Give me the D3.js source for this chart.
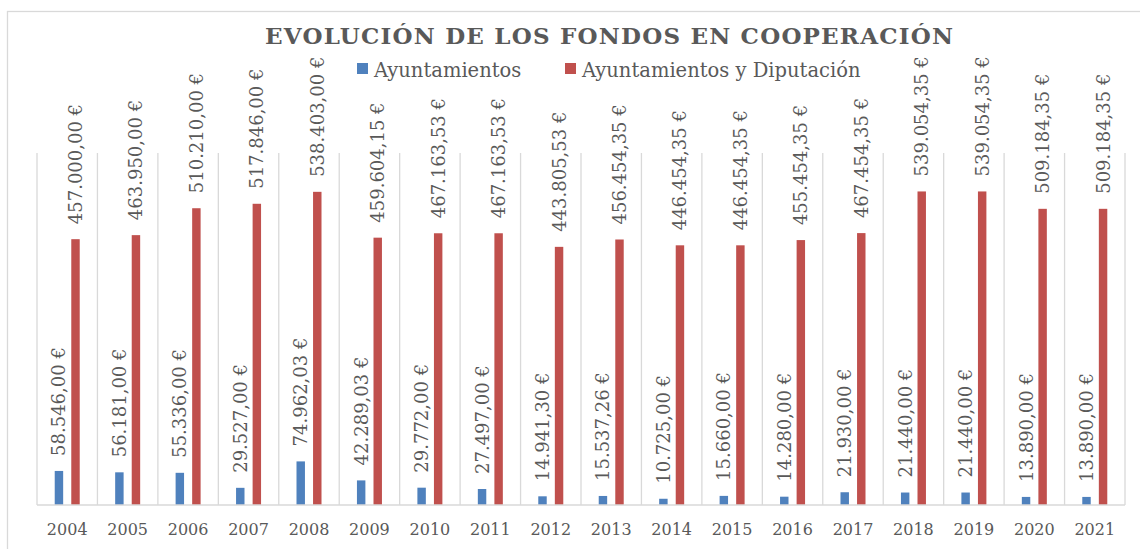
<!DOCTYPE html>
<html>
<head>
<meta charset="utf-8">
<script src="https://cdn.jsdelivr.net/npm/d3@7"></script>
<style>
  body { margin: 0; background: #fff; }
  svg { display: block; }
</style>
</head>
<body>
<div id="container"></div>
<script>
var width = 1140,
    height = 549;

// data
var years = ["2004", "2005", "2006", "2007", "2008", "2009", "2010", "2011", "2012",
             "2013", "2014", "2015", "2016", "2017", "2018", "2019", "2020", "2021"];
var seriesNames = ["Ayuntamientos", "Ayuntamientos y Diputación"];
var ayuntamientos = [58546.00, 56181.00, 55336.00, 29527.00, 74962.03, 42289.03, 29772.00, 27497.00, 14941.30,
                     15537.26, 10725.00, 15660.00, 14280.00, 21930.00, 21440.00, 21440.00, 13890.00, 13890.00];
var ayuntDiputacion = [457000.00, 463950.00, 510210.00, 517846.00, 538403.00, 459604.15, 467163.53, 467163.53, 443805.53,
                       456454.35, 446454.35, 446454.35, 455454.35, 467454.35, 539054.35, 539054.35, 509184.35, 509184.35];
var colors = ["#4f81bd", "#c0504d"];

var locale = d3.formatLocale({
    decimal: ",",
    thousands: ".",
    grouping: [3],
    currency: ["", " €"]
});
var fmt = locale.format("$,.2f");

var svg = d3.select("#container").append("svg")
    .attr("width", width)
    .attr("height", height);

// outer chart border
svg.append("rect")
    .attr("x", 7.5)
    .attr("y", 11.5)
    .attr("width", 1140)
    .attr("height", 560)
    .attr("fill", "none")
    .attr("stroke", "#d9d9d9")
    .attr("stroke-width", 1.3);

var plotLeft = 37, plotRight = 1125, plotTop = 153, plotBottom = 505;

var x = d3.scaleBand()
    .domain(years)
    .range([plotLeft, plotRight]);

var xSub = d3.scaleBand()
    .domain(seriesNames)
    .range([-12.5, 12.5])
    .paddingInner(0.49);

var y = d3.scaleLinear()
    .domain([0, 600000])
    .range([plotBottom, 156]);

// vertical gridlines between categories
var bounds = years.map(d => x(d)).concat([plotRight]);
svg.selectAll(".grid")
    .data(bounds)
    .enter().append("line")
    .attr("class", "grid")
    .attr("x1", d => d)
    .attr("x2", d => d)
    .attr("y1", plotTop)
    .attr("y2", plotBottom)
    .attr("stroke", "#d9d9d9")
    .attr("stroke-width", 1.3);

var rows = [];
years.forEach((yr, i) => {
    rows.push({ year: yr, s: 0, v: ayuntamientos[i] });
    rows.push({ year: yr, s: 1, v: ayuntDiputacion[i] });
});

svg.selectAll(".bar")
    .data(rows)
    .enter().append("rect")
    .attr("class", "bar")
    .attr("x", d => x(d.year) + x.bandwidth() / 2 + xSub(seriesNames[d.s]))
    .attr("width", xSub.bandwidth())
    .attr("y", d => y(d.v))
    .attr("height", d => plotBottom - y(d.v))
    .attr("fill", d => colors[d.s]);

// baseline
svg.append("line")
    .attr("x1", plotLeft)
    .attr("x2", plotRight)
    .attr("y1", plotBottom)
    .attr("y2", plotBottom)
    .attr("stroke", "#d9d9d9")
    .attr("stroke-width", 1.3);

// data labels, rotated
svg.selectAll(".lbl")
    .data(rows)
    .enter().append("text")
    .attr("class", "lbl")
    .attr("transform", d => {
        var cx = x(d.year) + x.bandwidth() / 2 + xSub(seriesNames[d.s]) + xSub.bandwidth() / 2;
        var cy = y(d.v) - 15;
        return "translate(" + cx + "," + cy + ") rotate(-90)";
    })
    .attr("dy", "0.36em")
    .attr("font-family", "DejaVu Serif")
    .attr("font-size", 18)
    .attr("fill", "#595959")
    .text(d => fmt(d.v));

// year labels
svg.selectAll(".yr")
    .data(years)
    .enter().append("text")
    .attr("class", "yr")
    .attr("x", d => x(d) + x.bandwidth() / 2)
    .attr("y", 535)
    .attr("text-anchor", "middle")
    .attr("font-family", "DejaVu Serif")
    .attr("font-size", 16)
    .attr("fill", "#595959")
    .text(d => d);

// title
svg.append("text")
    .attr("x", 265)
    .attr("y", 44)
    .attr("font-family", "DejaVu Serif")
    .attr("font-weight", "bold")
    .attr("font-size", 23)
    .attr("fill", "#595959")
    .attr("textLength", 688)
    .attr("lengthAdjust", "spacing")
    .text("EVOLUCIÓN DE LOS FONDOS EN COOPERACIÓN");

// legend
var legendX = [357, 565];
var lg = svg.selectAll(".lg")
    .data(seriesNames)
    .enter().append("g")
    .attr("class", "lg")
    .attr("transform", (d, i) => "translate(" + legendX[i] + ",63)");
lg.append("rect")
    .attr("width", 11)
    .attr("height", 11)
    .attr("fill", (d, i) => colors[i]);
lg.append("text")
    .attr("x", 17)
    .attr("y", 13.5)
    .attr("font-family", "DejaVu Serif")
    .attr("font-size", 19.5)
    .attr("fill", "#595959")
    .text(d => d);
</script>
</body>
</html>
